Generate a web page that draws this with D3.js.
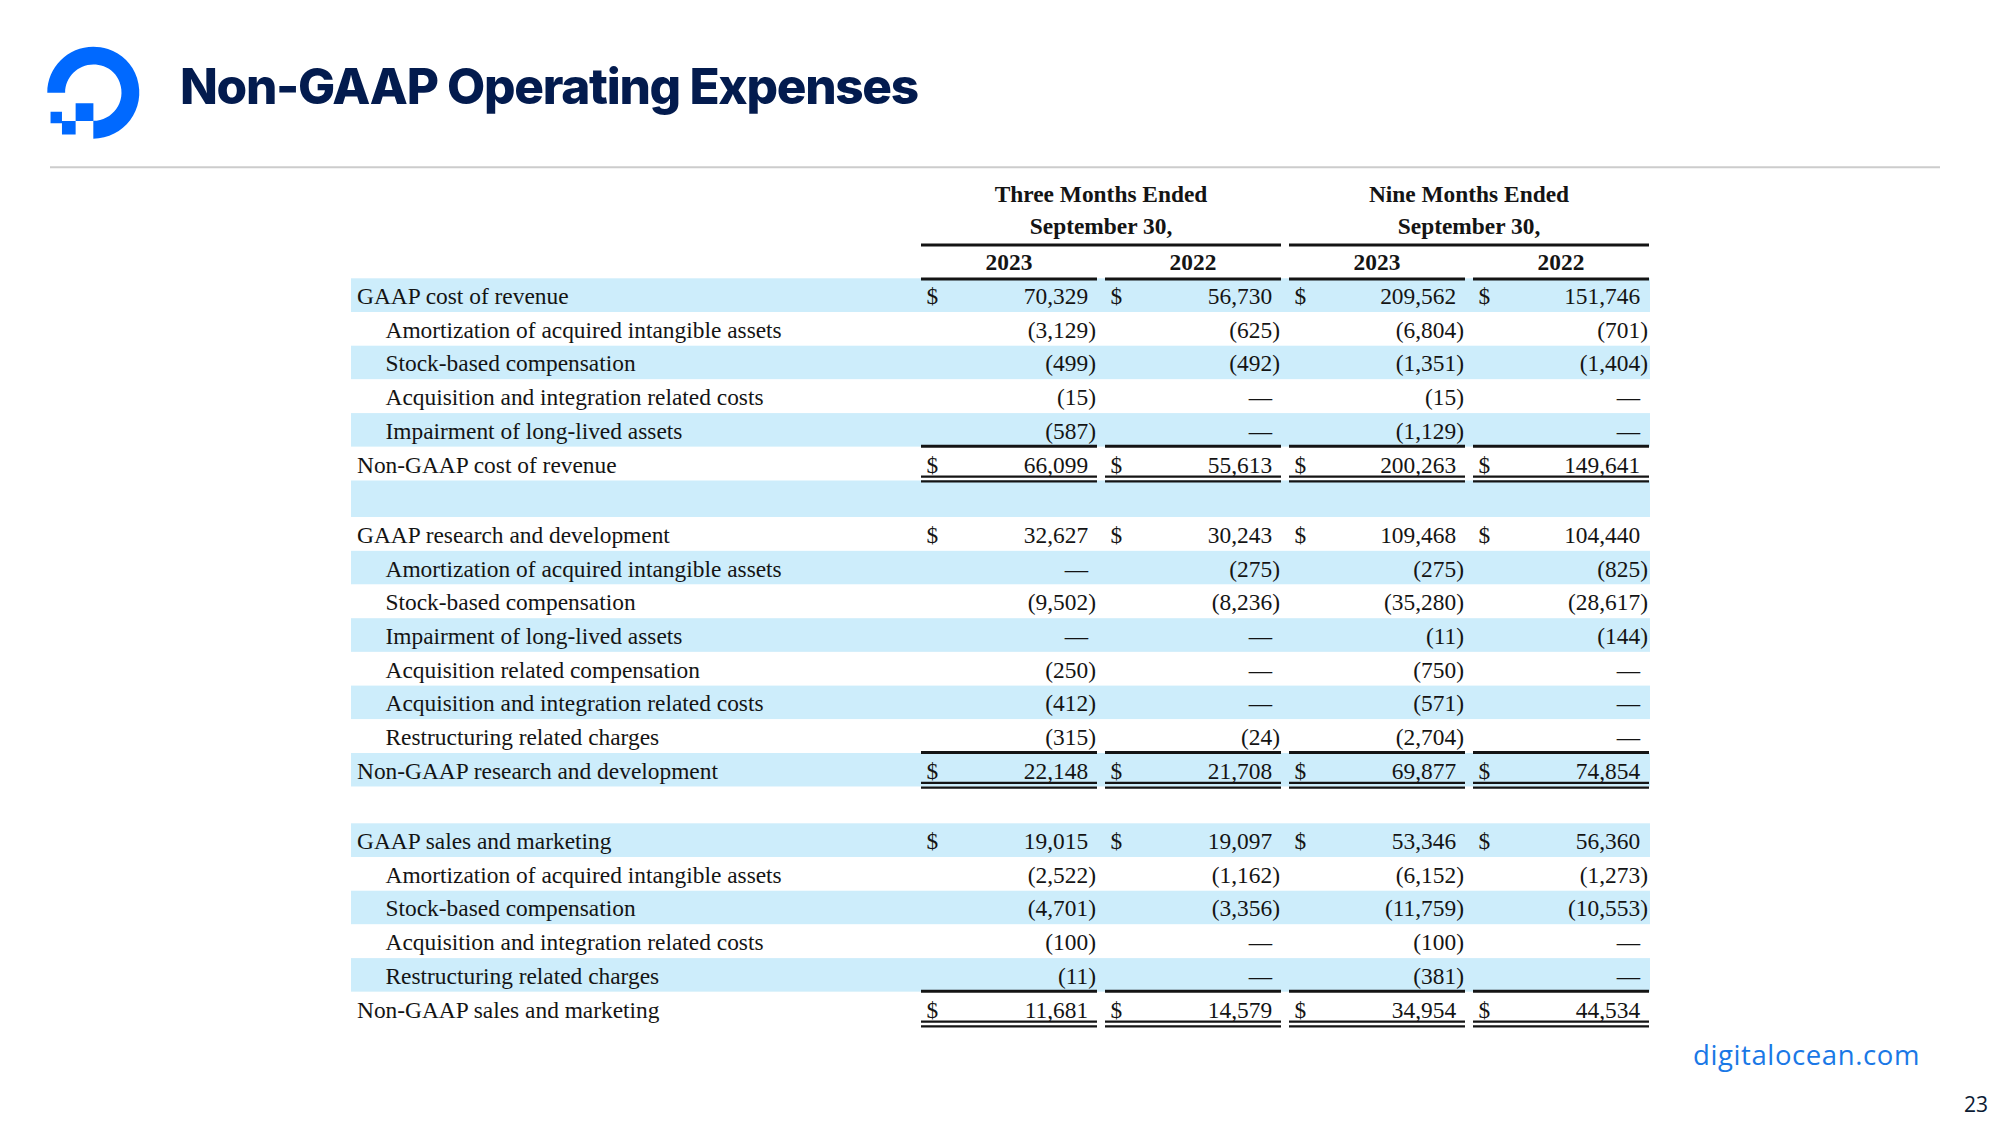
<!DOCTYPE html>
<html><head><meta charset="utf-8">
<script src="https://cdn.jsdelivr.net/npm/d3@7"></script>
<style>html,body{margin:0;padding:0;background:#fff;overflow:hidden}</style>
</head><body><svg id="c" width="2000" height="1125"></svg>
<script>
// ---------- data ----------
const titleText = "Non-GAAP Operating Expenses";
const periodLabels = [["Three Months Ended", "September 30,"], ["Nine Months Ended", "September 30,"]];
const yearLabels = ["2023", "2022", "2023", "2022"];
const rowLabels = [
  "GAAP cost of revenue",
  "Amortization of acquired intangible assets",
  "Stock-based compensation",
  "Acquisition and integration related costs",
  "Impairment of long-lived assets",
  "Non-GAAP cost of revenue",
  "",
  "GAAP research and development",
  "Amortization of acquired intangible assets",
  "Stock-based compensation",
  "Impairment of long-lived assets",
  "Acquisition related compensation",
  "Acquisition and integration related costs",
  "Restructuring related charges",
  "Non-GAAP research and development",
  "",
  "GAAP sales and marketing",
  "Amortization of acquired intangible assets",
  "Stock-based compensation",
  "Acquisition and integration related costs",
  "Restructuring related charges",
  "Non-GAAP sales and marketing"
];
const rowKinds = ["gaap","item","item","item","item","total","blank",
  "gaap","item","item","item","item","item","item","total","blank",
  "gaap","item","item","item","item","total"];
// null = "—"
const q3_2023 = [70329,-3129,-499,-15,-587,66099,null,32627,null,-9502,null,-250,-412,-315,22148,null,19015,-2522,-4701,-100,-11,11681];
const q3_2022 = [56730,-625,-492,null,null,55613,null,30243,-275,-8236,null,null,null,-24,21708,null,19097,-1162,-3356,null,null,14579];
const nm_2023 = [209562,-6804,-1351,-15,-1129,200263,null,109468,-275,-35280,-11,-750,-571,-2704,69877,null,53346,-6152,-11759,-100,-381,34954];
const nm_2022 = [151746,-701,-1404,null,null,149641,null,104440,-825,-28617,-144,null,null,null,74854,null,56360,-1273,-10553,null,null,44534];
const columns = [q3_2023, q3_2022, nm_2023, nm_2022];
const footerText = "digitalocean.com";
const pageNumber = "23";

// ---------- layout ----------
const svg = d3.select("#c");
const serif = "'Liberation Serif','Times New Roman',serif";
const ink = "#141414";
const navy = "#031b4e";
const blue = "#0069ff";
const band = "#cdedfb";
const fs = 23.4;

svg.append("rect").attr("width", 2000).attr("height", 1125).attr("fill", "#fff");

// logo
const logo = svg.append("g").attr("transform", "translate(54.4,46.1) scale(0.741)").attr("fill", blue);
logo.append("path").attr("d", "M52.523 124.941v-24.077c25.486 0 45.274-25.275 35.493-52.082-3.586-9.922-11.534-17.870-21.455-21.455C39.753 17.614 14.478 37.402 14.478 62.888H-9.6C-9.6 22.250 29.695-9.424 72.295 3.885c18.590 5.777 33.445 20.632 39.222 39.222 13.310 42.600-18.365 81.834-58.994 81.834z");
logo.append("path").attr("d", "M52.627 100.970H28.654V76.997h23.973zM28.654 119.413H10.210v-18.444h18.444zM10.210 104.024H-5.200V88.600H10.210z");

// title
svg.append("text").attr("x", 180).attr("y", 104)
  .attr("font-family", "Inter, 'Noto Sans', sans-serif").attr("font-weight", 800)
  .attr("font-size", 49.5).attr("letter-spacing", -1.3).attr("fill", navy).text(titleText);

// rule
svg.append("line").attr("x1", 50).attr("x2", 1940).attr("y1", 167.3).attr("y2", 167.3)
  .attr("stroke", "#cccccc").attr("stroke-width", 2);

// scales
const colIdx = d3.range(columns.length);
const x = d3.scaleBand().domain(colIdx).range([921, 1649]).paddingInner(0.0435).paddingOuter(0);
const units = rowKinds.map(k => k === "blank" ? 1.087 : 1);
const cum = [0]; units.forEach((u, i) => cum.push(cum[i] + u));
const y = d3.scaleLinear().domain([0, cum[cum.length - 1]]).range([278.3, 1025.5]);
const rowTop = i => y(cum[i]);
const rowH = i => y(cum[i + 1]) - y(cum[i]);
const tableLeft = 351, tableRight = 1650;

// bands
svg.append("g").selectAll("rect").data(rowKinds).join("rect")
  .attr("x", tableLeft).attr("width", tableRight - tableLeft)
  .attr("y", (d, i) => rowTop(i)).attr("height", (d, i) => rowH(i))
  .attr("fill", (d, i) => i % 2 === 0 ? band : "#fff");

// header
const hdr = svg.append("g").attr("font-family", serif).attr("font-weight", "bold")
  .attr("font-size", fs).attr("fill", ink).attr("text-anchor", "middle");
periodLabels.forEach((p, g) => {
  const x0 = x(g * 2), x1 = x(g * 2 + 1) + x.bandwidth();
  hdr.append("text").attr("x", (x0 + x1) / 2).attr("y", 202).text(p[0]);
  hdr.append("text").attr("x", (x0 + x1) / 2).attr("y", 234).text(p[1]);
  svg.append("line").attr("x1", x0).attr("x2", x1).attr("y1", 245).attr("y2", 245)
    .attr("stroke", ink).attr("stroke-width", 3);
});
yearLabels.forEach((t, c) => {
  hdr.append("text").attr("x", x(c) + x.bandwidth() / 2).attr("y", 269.5).text(t);
  svg.append("line").attr("x1", x(c)).attr("x2", x(c) + x.bandwidth()).attr("y1", 279).attr("y2", 279)
    .attr("stroke", ink).attr("stroke-width", 3);
});

// labels
const body = svg.append("g").attr("font-family", serif).attr("font-size", fs).attr("fill", ink);
body.selectAll("text.lbl").data(rowLabels).join("text").attr("class", "lbl")
  .attr("x", (d, i) => rowKinds[i] === "item" ? 385.5 : 357)
  .attr("y", (d, i) => rowTop(i) + rowH(i) * 0.765)
  .text(d => d);

// values
const fmt = d3.format(",");
columns.forEach((vals, c) => {
  const xs = x(c), xe = x(c) + x.bandwidth();
  const xn = xe - 8.8;
  vals.forEach((v, i) => {
    const k = rowKinds[i];
    if (k === "blank") return;
    const by = rowTop(i) + rowH(i) * 0.765;
    if (k === "gaap" || k === "total") {
      body.append("text").attr("x", xs + 5.5).attr("y", by).text("$");
    }
    if (v === null) {
      body.append("text").attr("x", xn).attr("y", by).attr("text-anchor", "end").text("\u2014");
    } else if (v < 0) {
      body.append("text").attr("x", xn).attr("y", by).attr("text-anchor", "end").text("(" + fmt(-v));
      body.append("text").attr("x", xn).attr("y", by).text(")");
    } else {
      body.append("text").attr("x", xn).attr("y", by).attr("text-anchor", "end").text(fmt(v));
    }
    if (k === "total") {
      const t = rowTop(i), b = rowTop(i) + rowH(i);
      svg.append("line").attr("x1", xs).attr("x2", xe).attr("y1", t - 0.6).attr("y2", t - 0.6)
        .attr("stroke", ink).attr("stroke-width", 3);
      [b - 3.8, b + 0.9].forEach(yy => svg.append("line").attr("x1", xs).attr("x2", xe)
        .attr("y1", yy).attr("y2", yy).attr("stroke", ink).attr("stroke-width", 2.3));
    }
  });
});

// footer
svg.append("text").attr("x", 1920).attr("y", 1065).attr("text-anchor", "end")
  .attr("font-family", "'Open Sans', Lato, sans-serif").attr("font-size", 27.5).attr("letter-spacing", 0.6)
  .attr("fill", "#1a78e6").text(footerText);
svg.append("text").attr("x", 1988).attr("y", 1112).attr("text-anchor", "end")
  .attr("font-family", "'Open Sans', Lato, sans-serif").attr("font-size", 21)
  .attr("fill", "#0b1a33").text(pageNumber);
</script></body></html>
